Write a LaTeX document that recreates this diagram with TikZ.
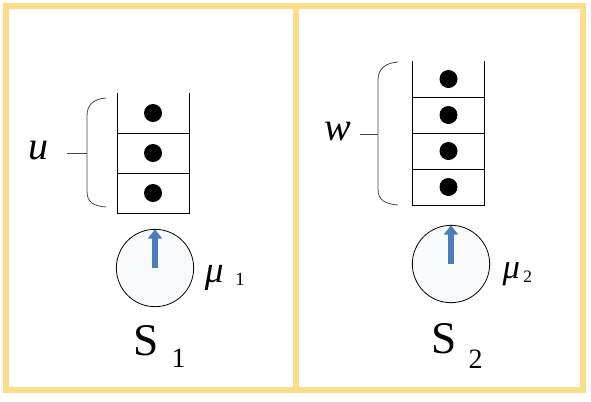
\documentclass[tikz,border=0pt]{standalone}
\usepackage{fontspec}
\setmainfont{Liberation Serif}
\usetikzlibrary{arrows.meta, positioning, calc}
\definecolor{qframe}{RGB}{251,222,138}
\definecolor{qblue}{RGB}{74,126,187}
\definecolor{qgray}{RGB}{70,70,70}

\begin{document}
\begin{tikzpicture}[x=0.75pt, y=-0.75pt,
  cell/.style={rectangle, draw, line width=0.6pt, minimum width=54pt, minimum height=#1, inner sep=0pt, outer sep=0pt},
  cell/.default=30pt,
  opencell/.style={cell=#1, draw=none},
  opencell/.default=30pt,
  job/.style={circle, fill=black, minimum size=13.5pt, inner sep=0pt},
  server/.style={circle, draw, line width=0.6pt, minimum size=58pt, inner sep=0pt, outer sep=0pt, fill=qblue!4},
  svc/.style={-{Triangle[length=7pt, width=10.5pt]}, line width=5pt, draw=qblue},
  brace/.style={draw=qgray, line width=0.6pt},
  panel/.style={draw=qframe, line width=3.8pt},
  lbl/.style={font=\itshape, inner sep=0pt},
  txt/.style={inner sep=0pt, anchor=base west}
]
\useasboundingbox (0,0) rectangle (591,401);
% panels
\draw[panel] (6,6) rectangle (296,390);
\draw[panel] (296,6) rectangle (583,390);

% queue 1
\node[cell] (q1c) at (153,193) {};
\node[cell, above=0pt of q1c] (q1b) {};
\node[opencell, above=0pt of q1b] (q1a) {};
\draw[line width=0.6pt] (q1a.north west) -- (q1a.south west) (q1a.north east) -- (q1a.south east);
\foreach \c in {q1a,q1b,q1c}
  \node[job] (j\c) at (\c) {};

% queue 2
\node[cell=27pt] (q2d) at (448.5,187) {};
\node[cell=27pt, above=0pt of q2d] (q2c) {};
\node[cell=27pt, above=0pt of q2c] (q2b) {};
\node[opencell=27pt, above=0pt of q2b] (q2a) {};
\draw[line width=0.6pt] (q2a.north west) -- (q2a.south west) (q2a.north east) -- (q2a.south east);
\foreach \c in {q2a,q2b,q2c,q2d}
  \node[job] (j\c) at (\c) {};

% braces
\draw[brace] (106,98) .. controls (93,99) and (87,105) .. (87,116) -- (87,191) .. controls (87,202) and (93,206) .. (106,207);
\coordinate (b1) at (87,153);
\coordinate (t1) at (67,153);
\node[lbl, scale=3.0] (u) at (38,151) {u};
\draw[brace] (t1) -- (b1);

\draw[brace] (398,62) .. controls (385,63) and (378,69) .. (378,80) -- (378,189) .. controls (378,200) and (385,204) .. (398,205);
\coordinate (b2) at (378,134);
\coordinate (t2) at (360,134);
\node[lbl, scale=3.0] (w) at (338,132) {w};
\draw[brace] (t2) -- (b2);

% servers
\node[server] (srv1) at (155,268) {};
\draw[svc] (srv1.center) -- (srv1.north);
\node[server] (srv2) at (451,264) {};
\draw[svc] (srv2.center) -- (srv2.north);

\node[txt, font=\itshape, scale=2.8] (mu1) at (204,282) {μ};
\node[txt, scale=1.4] (mu1n) at (235,285) {1};
\node[txt, font=\itshape, scale=2.6] (mu2) at (502,278) {μ};
\node[txt, scale=1.3] (mu2n) at (523,282) {2};

\node[txt, scale=3.4] (s1) at (133,355) {S};
\node[txt, scale=2.1] (s1n) at (171,367) {1};
\node[txt, scale=3.4] (s2) at (431,353) {S};
\node[txt, scale=2.1] (s2n) at (468,368) {2};
\end{tikzpicture}
\end{document}
